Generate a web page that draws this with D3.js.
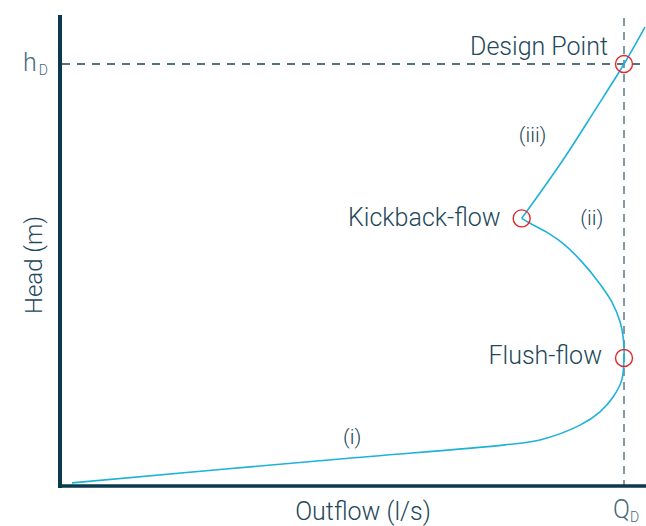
<!DOCTYPE html>
<html lang="en">
<head>
    <meta charset="UTF-8">
    <title>Outflow vs Head</title>
    <script src="https://cdnjs.cloudflare.com/ajax/libs/d3/7.8.5/d3.min.js"></script>
    <style>
        body { margin: 0; background: #fff; overflow: hidden; }
        svg { display: block; font-family: Roboto, 'Liberation Sans', sans-serif; font-weight: 300; }
        .lbl { fill: #234859; }
    </style>
</head>
<body>
    <div id="chart"></div>
    <script>
        // design flow / head
        const QD = 50;
        const hD = 1.2;

        // (i) vortex start-up, (ii) through flush-flow to kickback
        const lowerQ = [1.06, 24.82, 39.45, 42.55, 46.10, 47.87, 49.05, 49.80, 50.00, 49.94, 49.65, 48.91, 47.72, 46.25, 44.77, 43.29, 41.67, 40.93];
        const lowerH = [0.009, 0.077, 0.117, 0.131, 0.173, 0.211, 0.254, 0.301, 0.364, 0.420, 0.467, 0.524, 0.581, 0.638, 0.685, 0.719, 0.747, 0.761];

        // (iii) kickback up through the design point
        const upperQ = [40.93, 44.59, 47.43, 50.00, 51.86];
        const upperH = [0.761, 0.927, 1.069, 1.200, 1.305];

        const markNames = ["Kickback-flow", "Flush-flow", "Design Point"];
        const markQ = [40.93, 50.00, 50.00];
        const markH = [0.761, 0.364, 1.200];

        const stageNames = ["(i)", "(ii)", "(iii)"];
        const stageQ = [25.9, 47.15, 41.9];
        const stageH = [0.14, 0.762, 0.999];

        const width = 646, height = 526;
        const svg = d3.select("#chart").append("svg")
            .attr("width", width)
            .attr("height", height);

        const x = d3.scaleLinear().domain([0, QD]).range([60, 624]);
        const y = d3.scaleLinear().domain([0, hD]).range([486, 64]);

        const line = d3.line()
            .x(d => x(d[0]))
            .y(d => y(d[1]))
            .curve(d3.curveCatmullRom.alpha(0.5));

        // reference lines at QD and hD
        svg.append("line")
            .attr("x1", x(0) + 2).attr("x2", width)
            .attr("y1", y(hD)).attr("y2", y(hD))
            .attr("stroke", "#1d4657").attr("stroke-width", 1.3)
            .attr("stroke-dasharray", "8,7");
        svg.append("line")
            .attr("x1", x(QD)).attr("x2", x(QD))
            .attr("y1", 18).attr("y2", y(0))
            .attr("stroke", "#5b7b88").attr("stroke-width", 1.5)
            .attr("stroke-dasharray", "8,6");

        // curve
        svg.append("path")
            .datum(d3.zip(lowerQ, lowerH))
            .attr("d", line)
            .attr("fill", "none")
            .attr("stroke", "#1fb1d9")
            .attr("stroke-width", 1.6);
        svg.append("path")
            .datum(d3.zip(upperQ, upperH))
            .attr("d", line)
            .attr("fill", "none")
            .attr("stroke", "#1fb1d9")
            .attr("stroke-width", 1.6);

        // axes (no ticks)
        svg.append("line")
            .attr("x1", x(0)).attr("x2", x(0))
            .attr("y1", 15).attr("y2", y(0) + 2)
            .attr("stroke", "#0c3a4d").attr("stroke-width", 4);
        svg.append("line")
            .attr("x1", x(0) - 2).attr("x2", width)
            .attr("y1", y(0)).attr("y2", y(0))
            .attr("stroke", "#0c3a4d").attr("stroke-width", 3.6);

        // key points
        svg.selectAll(".pt")
            .data(markNames)
            .join("circle")
            .attr("class", "pt")
            .attr("cx", (d, i) => x(markQ[i]))
            .attr("cy", (d, i) => y(markH[i]))
            .attr("r", 8.5)
            .attr("fill", "none")
            .attr("stroke", "#e3262d")
            .attr("stroke-width", 1.4);

        const markDx = [-21, -22, -16];
        const markDy = [8, 6, -9];
        svg.selectAll(".mark-lbl")
            .data(markNames)
            .join("text")
            .attr("class", "mark-lbl lbl")
            .attr("x", (d, i) => x(markQ[i]) + markDx[i])
            .attr("y", (d, i) => y(markH[i]) + markDy[i])
            .attr("text-anchor", "end")
            .attr("font-size", 25)
            .text(d => d);

        svg.selectAll(".stage-lbl")
            .data(stageNames)
            .join("text")
            .attr("class", "stage-lbl lbl")
            .attr("x", (d, i) => x(stageQ[i]))
            .attr("y", (d, i) => y(stageH[i]))
            .attr("text-anchor", "middle")
            .attr("dominant-baseline", "central")
            .attr("font-size", 21)
            .text(d => d);

        // axis titles
        svg.append("text")
            .attr("class", "lbl")
            .attr("x", 363).attr("y", 520)
            .attr("text-anchor", "middle")
            .attr("font-size", 25)
            .text("Outflow (l/s)");
        svg.append("text")
            .attr("class", "lbl")
            .attr("transform", "translate(42,265) rotate(-90)")
            .attr("text-anchor", "middle")
            .attr("font-size", 24)
            .text("Head (m)");

        // QD / hD labels
        const qd = svg.append("text")
            .attr("x", x(QD) - 11).attr("y", 518)
            .attr("fill", "#456a7a")
            .attr("font-size", 25);
        qd.append("tspan").text("Q");
        qd.append("tspan").attr("font-size", 14).attr("dy", 4).text("D");

        const hd = svg.append("text")
            .attr("x", 23).attr("y", y(hD) + 7)
            .attr("fill", "#456a7a")
            .attr("font-size", 25);
        hd.append("tspan").text("h");
        hd.append("tspan").attr("font-size", 14).attr("dx", 2).attr("dy", 4).text("D");
    </script>
</body>
</html>
